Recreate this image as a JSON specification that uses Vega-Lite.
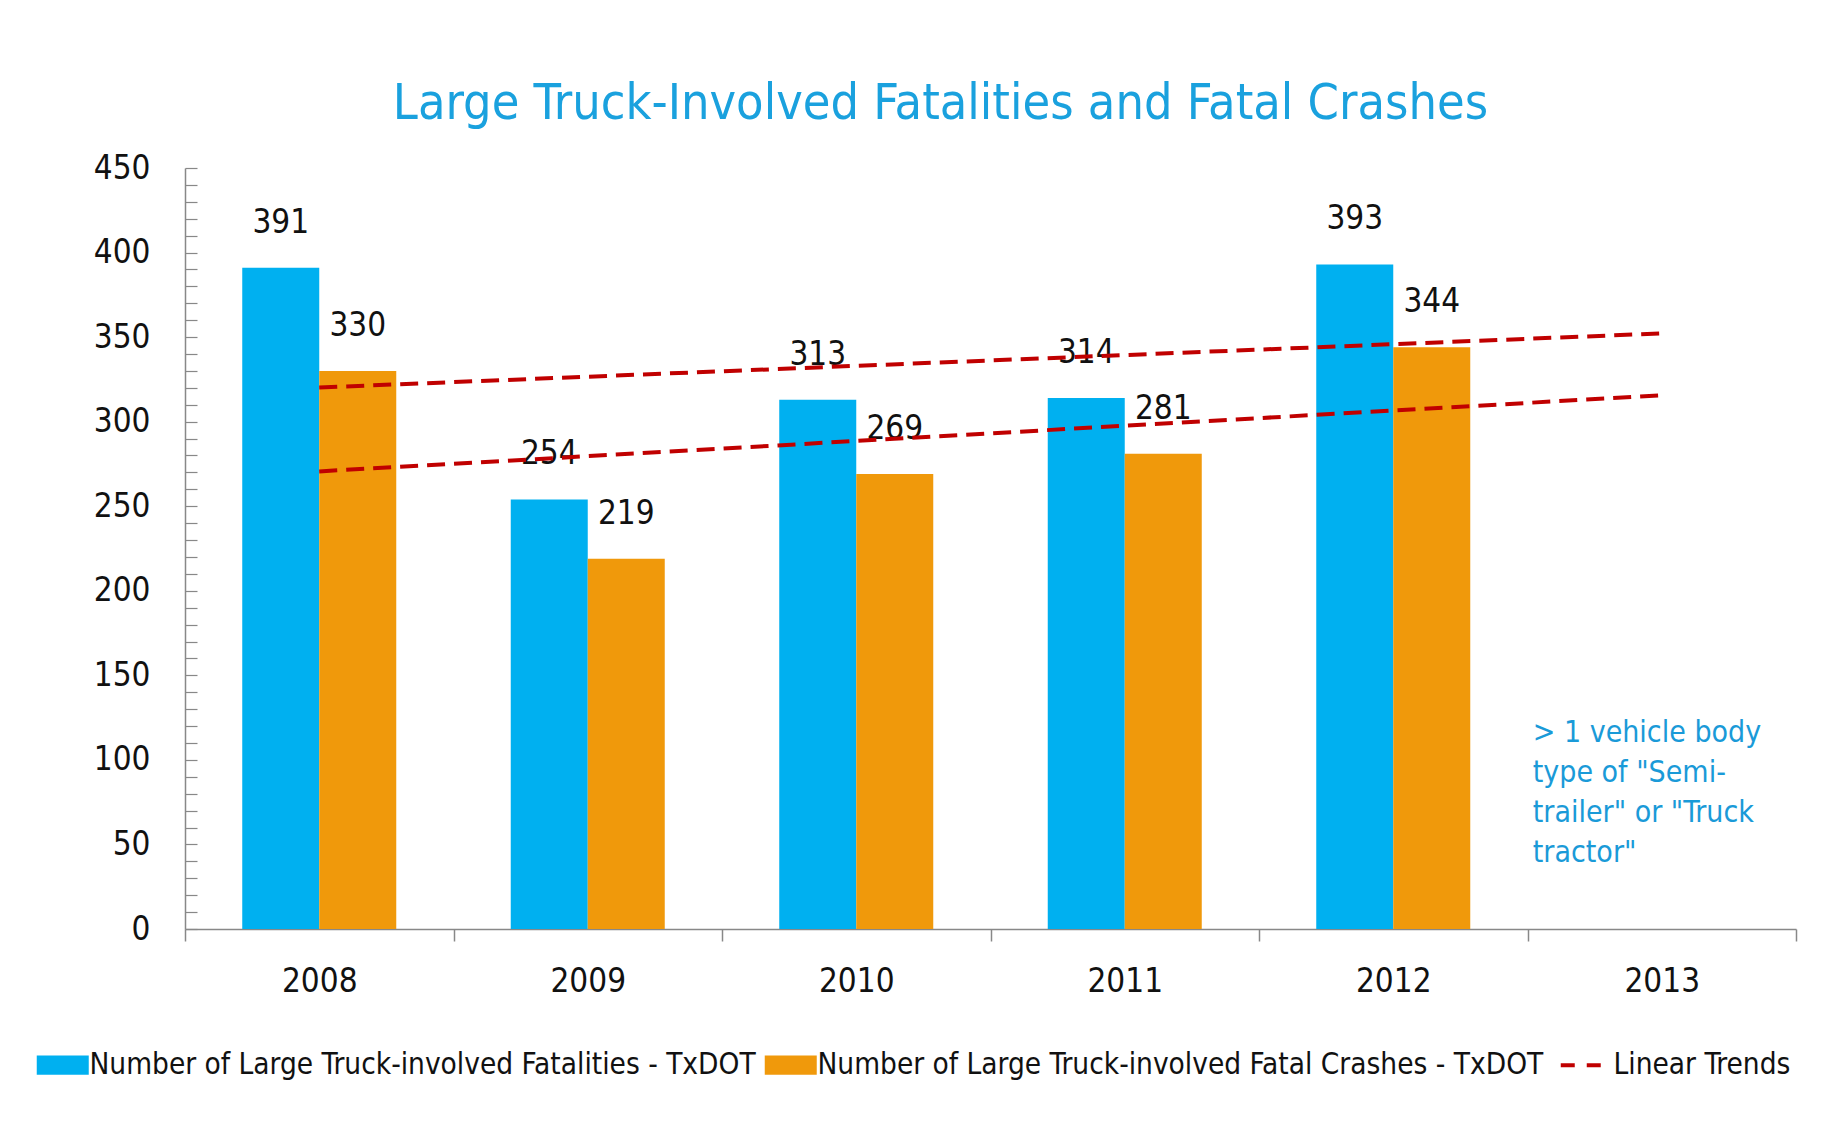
{
  "$schema": "https://vega.github.io/schema/vega-lite/v6.json",
  "autosize": {"type": "none"},
  "width": 1611,
  "height": 761,
  "padding": {"left": 185, "top": 168, "right": 48, "bottom": 197},
  "background": "white",
  "config": {
    "view": {"stroke": null},
    "font": "'Liberation Sans Narrow', 'DejaVu Sans Condensed', sans-serif"
  },
  "title": {
    "text": "Large Truck-Involved Fatalities and Fatal Crashes",
    "font": "'Liberation Sans Narrow', 'DejaVu Sans Condensed', sans-serif",
    "fontSize": 50,
    "fontWeight": "normal",
    "color": "#1AA1DE",
    "anchor": "middle",
    "dx": -50,
    "offset": -17,
    "baseline": "alphabetic"
  },
  "datasets": {
    "bars": [
      {"year": "2008", "series": "Number of Large Truck-involved Fatalities - TxDOT", "value": 391},
      {"year": "2008", "series": "Number of Large Truck-involved Fatal Crashes - TxDOT", "value": 330},
      {"year": "2009", "series": "Number of Large Truck-involved Fatalities - TxDOT", "value": 254},
      {"year": "2009", "series": "Number of Large Truck-involved Fatal Crashes - TxDOT", "value": 219},
      {"year": "2010", "series": "Number of Large Truck-involved Fatalities - TxDOT", "value": 313},
      {"year": "2010", "series": "Number of Large Truck-involved Fatal Crashes - TxDOT", "value": 269},
      {"year": "2011", "series": "Number of Large Truck-involved Fatalities - TxDOT", "value": 314},
      {"year": "2011", "series": "Number of Large Truck-involved Fatal Crashes - TxDOT", "value": 281},
      {"year": "2012", "series": "Number of Large Truck-involved Fatalities - TxDOT", "value": 393},
      {"year": "2012", "series": "Number of Large Truck-involved Fatal Crashes - TxDOT", "value": 344}
    ],
    "trends": [
      {"year": "2008", "series": "Linear Trends", "trend": "Fatalities", "value": 320.2},
      {"year": "2013", "series": "Linear Trends", "trend": "Fatalities", "value": 352.2},
      {"year": "2008", "series": "Linear Trends", "trend": "Crashes", "value": 270.6},
      {"year": "2013", "series": "Linear Trends", "trend": "Crashes", "value": 315.6}
    ],
    "notes": [
      {"year": "2013", "note": "> 1 vehicle body\ntype of \"Semi-\ntrailer\" or \"Truck\ntractor\""}
    ]
  },
  "encoding": {
    "x": {
      "field": "year",
      "type": "nominal",
      "scale": {"domain": ["2008", "2009", "2010", "2011", "2012", "2013"], "paddingInner": 0, "paddingOuter": 0},
      "axis": {
        "title": null,
        "labelAngle": 0,
        "labelFontSize": 33,
        "labelColor": "#111111",
        "labelPadding": 24,
        "tickBand": "extent",
        "tickSize": 12,
        "tickColor": "#888888",
        "tickWidth": 1.5,
        "domainColor": "#888888",
        "domainWidth": 1.5
      }
    }
  },
  "layer": [
    {
      "data": {"name": "bars"},
      "mark": {"type": "bar"},
      "encoding": {
        "y": {
          "field": "value",
          "type": "quantitative",
          "scale": {"domain": [0, 450], "nice": false, "zero": true},
          "axis": {
            "title": null,
            "grid": false,
            "values": [0, 10, 20, 30, 40, 50, 60, 70, 80, 90, 100, 110, 120, 130, 140, 150, 160, 170, 180, 190, 200, 210, 220, 230, 240, 250, 260, 270, 280, 290, 300, 310, 320, 330, 340, 350, 360, 370, 380, 390, 400, 410, 420, 430, 440, 450],
            "labelExpr": "datum.value % 50 === 0 ? datum.label : ''",
            "labelFontSize": 33,
            "labelColor": "#111111",
            "tickSize": -12,
            "labelPadding": 47,
            "tickColor": "#888888",
            "tickWidth": 1.2,
            "domainColor": "#888888",
            "domainWidth": 1.5
          }
        },
        "xOffset": {
          "field": "series",
          "type": "nominal",
          "scale": {"domain": ["Number of Large Truck-involved Fatalities - TxDOT", "Number of Large Truck-involved Fatal Crashes - TxDOT"], "paddingInner": 0, "paddingOuter": 0.7435}
        },
        "color": {
          "field": "series",
          "type": "nominal",
          "scale": {
            "domain": ["Number of Large Truck-involved Fatalities - TxDOT", "Number of Large Truck-involved Fatal Crashes - TxDOT", "Linear Trends"],
            "range": ["#00B0F0", "#F0990B", "#C00000"]
          },
          "legend": {
            "orient": "none",
            "legendX": -137,
            "legendY": 882,
            "direction": "horizontal",
            "title": null,
            "labelFontSize": 29.5,
            "labelLimit": 2000,
            "labelColor": "#111111",
            "symbolSize": 2704,
            "columnPadding": 8,
            "labelOffset": 12,
            "encode": {
              "symbols": {
                "update": {
                  "shape": {"signal": "datum.value === 'Linear Trends' ? 'stroke' : 'M-1,-0.37H1V0.37H-1Z'"},
                  "fill": {"signal": "datum.value === 'Linear Trends' ? 'transparent' : scale('color', datum.value)"},
                  "stroke": {"signal": "datum.value === 'Linear Trends' ? '#C00000' : 'transparent'"},
                  "strokeWidth": {"signal": "datum.value === 'Linear Trends' ? 4 : 0"},
                  "strokeDash": {"signal": "datum.value === 'Linear Trends' ? [14, 12] : [1, 0]"},
                  "opacity": {"value": 1}
                }
              }
            }
          }
        }
      }
    },
    {
      "data": {"name": "bars"},
      "mark": {"type": "text", "fontSize": 33, "color": "#111111", "baseline": "middle", "dy": -45},
      "encoding": {
        "y": {
          "field": "value",
          "type": "quantitative",
          "axis": {
            "title": null,
            "grid": false,
            "values": [0, 10, 20, 30, 40, 50, 60, 70, 80, 90, 100, 110, 120, 130, 140, 150, 160, 170, 180, 190, 200, 210, 220, 230, 240, 250, 260, 270, 280, 290, 300, 310, 320, 330, 340, 350, 360, 370, 380, 390, 400, 410, 420, 430, 440, 450],
            "labelExpr": "datum.value % 50 === 0 ? datum.label : ''",
            "labelFontSize": 33,
            "labelColor": "#111111",
            "tickSize": -12,
            "labelPadding": 47,
            "tickColor": "#888888",
            "tickWidth": 1.2,
            "domainColor": "#888888",
            "domainWidth": 1.5
          }
        },
        "xOffset": {"field": "series", "type": "nominal"},
        "text": {"field": "value", "type": "quantitative"}
      }
    },
    {
      "data": {"name": "trends"},
      "mark": {"type": "line", "strokeDash": [18, 9], "strokeWidth": 4},
      "encoding": {
        "y": {
          "field": "value",
          "type": "quantitative",
          "axis": {
            "title": null,
            "grid": false,
            "values": [0, 10, 20, 30, 40, 50, 60, 70, 80, 90, 100, 110, 120, 130, 140, 150, 160, 170, 180, 190, 200, 210, 220, 230, 240, 250, 260, 270, 280, 290, 300, 310, 320, 330, 340, 350, 360, 370, 380, 390, 400, 410, 420, 430, 440, 450],
            "labelExpr": "datum.value % 50 === 0 ? datum.label : ''",
            "labelFontSize": 33,
            "labelColor": "#111111",
            "tickSize": -12,
            "labelPadding": 47,
            "tickColor": "#888888",
            "tickWidth": 1.2,
            "domainColor": "#888888",
            "domainWidth": 1.5
          }
        },
        "detail": {"field": "trend", "type": "nominal"},
        "color": {"field": "series", "type": "nominal"}
      }
    },
    {
      "data": {"name": "notes"},
      "mark": {"type": "text", "align": "left", "baseline": "top", "dx": -129, "fontSize": 30, "lineHeight": 40, "lineBreak": "\n", "color": "#1A9AD8"},
      "encoding": {
        "y": {
          "datum": 125,
          "type": "quantitative",
          "axis": {
            "title": null,
            "grid": false,
            "values": [0, 10, 20, 30, 40, 50, 60, 70, 80, 90, 100, 110, 120, 130, 140, 150, 160, 170, 180, 190, 200, 210, 220, 230, 240, 250, 260, 270, 280, 290, 300, 310, 320, 330, 340, 350, 360, 370, 380, 390, 400, 410, 420, 430, 440, 450],
            "labelExpr": "datum.value % 50 === 0 ? datum.label : ''",
            "labelFontSize": 33,
            "labelColor": "#111111",
            "tickSize": -12,
            "labelPadding": 47,
            "tickColor": "#888888",
            "tickWidth": 1.2,
            "domainColor": "#888888",
            "domainWidth": 1.5
          }
        },
        "text": {"field": "note", "type": "nominal"}
      }
    }
  ]
}
